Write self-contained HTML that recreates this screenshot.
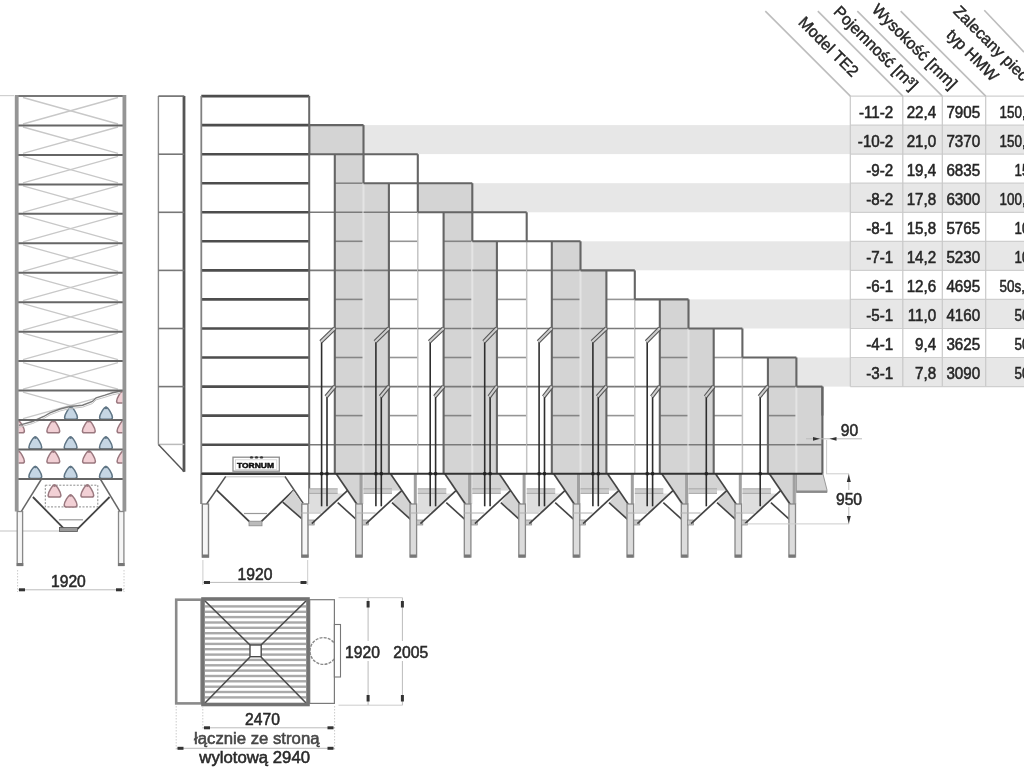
<!DOCTYPE html>
<html><head><meta charset="utf-8"><style>
html,body{margin:0;padding:0;background:#fff;width:1024px;height:768px;overflow:hidden}
svg{display:block;font-family:"Liberation Sans",sans-serif}
</style></head><body>
<svg width="1024" height="768" viewBox="0 0 1024 768">
<rect width="1024" height="768" fill="#fff"/>
<rect x="363.5" y="125.1" width="660.5" height="29.0" fill="#e7e7e7" stroke="none" stroke-width="1" />
<rect x="472.3" y="183.2" width="551.7" height="29.1" fill="#e7e7e7" stroke="none" stroke-width="1" />
<rect x="580.5" y="241.3" width="443.5" height="29.0" fill="#e7e7e7" stroke="none" stroke-width="1" />
<rect x="688.5" y="299.4" width="335.5" height="29.1" fill="#e7e7e7" stroke="none" stroke-width="1" />
<rect x="796.4" y="357.5" width="227.6" height="29.1" fill="#e7e7e7" stroke="none" stroke-width="1" />
<path d="M309.2,125.1H334.8V154.2H309.2ZM334.8,125.1H363.5V154.2H334.8ZM334.8,154.2H363.5V473.8H334.8ZM363.5,183.2H388.9V473.8H363.5ZM417.8,183.2H443.6V212.3H417.8ZM443.6,183.2H472.3V212.3H443.6ZM443.6,212.3H472.3V473.8H443.6ZM472.3,241.3H496.9V473.8H472.3ZM551.8,241.3H580.5V270.4H551.8ZM551.8,270.4H580.5V473.8H551.8ZM580.5,270.4H606.4V299.4H580.5ZM580.5,299.4H606.4V473.8H580.5ZM659.8,299.4H688.5V328.5H659.8ZM659.8,328.5H688.5V473.8H659.8ZM688.5,328.5H713.7V357.5H688.5ZM688.5,357.5H713.7V473.8H688.5ZM767.9,357.5H796.4V386.6H767.9ZM767.9,386.6H796.4V473.8H767.9ZM796.4,386.6H822.4V473.8H796.4Z" fill="#d4d4d4"/>
<line x1="334.8" y1="183.2" x2="363.5" y2="183.2" stroke="#858585" stroke-width="1.6" />
<line x1="309.2" y1="212.3" x2="363.5" y2="212.3" stroke="#7a7a7a" stroke-width="1.6" />
<line x1="334.8" y1="241.3" x2="363.5" y2="241.3" stroke="#858585" stroke-width="1.6" />
<line x1="309.2" y1="270.4" x2="363.5" y2="270.4" stroke="#7a7a7a" stroke-width="1.6" />
<line x1="334.8" y1="299.4" x2="363.5" y2="299.4" stroke="#858585" stroke-width="1.6" />
<line x1="309.2" y1="328.5" x2="363.5" y2="328.5" stroke="#7a7a7a" stroke-width="1.6" />
<line x1="334.8" y1="357.5" x2="363.5" y2="357.5" stroke="#858585" stroke-width="1.6" />
<line x1="309.2" y1="386.6" x2="363.5" y2="386.6" stroke="#7a7a7a" stroke-width="1.6" />
<line x1="334.8" y1="415.6" x2="363.5" y2="415.6" stroke="#858585" stroke-width="1.6" />
<line x1="309.2" y1="444.7" x2="363.5" y2="444.7" stroke="#7a7a7a" stroke-width="1.6" />
<line x1="334.8" y1="473.8" x2="363.5" y2="473.8" stroke="#858585" stroke-width="1.6" />
<line x1="363.5" y1="154.2" x2="363.5" y2="473.8" stroke="#e4e4e4" stroke-width="2" />
<line x1="363.5" y1="212.3" x2="417.8" y2="212.3" stroke="#7a7a7a" stroke-width="1.6" />
<line x1="388.9" y1="241.3" x2="417.8" y2="241.3" stroke="#959595" stroke-width="1.6" />
<line x1="363.5" y1="270.4" x2="417.8" y2="270.4" stroke="#7a7a7a" stroke-width="1.6" />
<line x1="388.9" y1="299.4" x2="417.8" y2="299.4" stroke="#959595" stroke-width="1.6" />
<line x1="363.5" y1="328.5" x2="417.8" y2="328.5" stroke="#7a7a7a" stroke-width="1.6" />
<line x1="388.9" y1="357.5" x2="417.8" y2="357.5" stroke="#959595" stroke-width="1.6" />
<line x1="363.5" y1="386.6" x2="417.8" y2="386.6" stroke="#7a7a7a" stroke-width="1.6" />
<line x1="388.9" y1="415.6" x2="417.8" y2="415.6" stroke="#959595" stroke-width="1.6" />
<line x1="363.5" y1="444.7" x2="417.8" y2="444.7" stroke="#7a7a7a" stroke-width="1.6" />
<line x1="388.9" y1="473.8" x2="417.8" y2="473.8" stroke="#959595" stroke-width="1.6" />
<line x1="417.8" y1="183.2" x2="417.8" y2="473.8" stroke="#c4c4c4" stroke-width="1.5" />
<line x1="443.6" y1="241.3" x2="472.3" y2="241.3" stroke="#858585" stroke-width="1.6" />
<line x1="417.8" y1="270.4" x2="472.3" y2="270.4" stroke="#7a7a7a" stroke-width="1.6" />
<line x1="443.6" y1="299.4" x2="472.3" y2="299.4" stroke="#858585" stroke-width="1.6" />
<line x1="417.8" y1="328.5" x2="472.3" y2="328.5" stroke="#7a7a7a" stroke-width="1.6" />
<line x1="443.6" y1="357.5" x2="472.3" y2="357.5" stroke="#858585" stroke-width="1.6" />
<line x1="417.8" y1="386.6" x2="472.3" y2="386.6" stroke="#7a7a7a" stroke-width="1.6" />
<line x1="443.6" y1="415.6" x2="472.3" y2="415.6" stroke="#858585" stroke-width="1.6" />
<line x1="417.8" y1="444.7" x2="472.3" y2="444.7" stroke="#7a7a7a" stroke-width="1.6" />
<line x1="443.6" y1="473.8" x2="472.3" y2="473.8" stroke="#858585" stroke-width="1.6" />
<line x1="472.3" y1="212.3" x2="472.3" y2="473.8" stroke="#e4e4e4" stroke-width="2" />
<line x1="472.3" y1="270.4" x2="526.7" y2="270.4" stroke="#7a7a7a" stroke-width="1.6" />
<line x1="496.9" y1="299.4" x2="526.7" y2="299.4" stroke="#959595" stroke-width="1.6" />
<line x1="472.3" y1="328.5" x2="526.7" y2="328.5" stroke="#7a7a7a" stroke-width="1.6" />
<line x1="496.9" y1="357.5" x2="526.7" y2="357.5" stroke="#959595" stroke-width="1.6" />
<line x1="472.3" y1="386.6" x2="526.7" y2="386.6" stroke="#7a7a7a" stroke-width="1.6" />
<line x1="496.9" y1="415.6" x2="526.7" y2="415.6" stroke="#959595" stroke-width="1.6" />
<line x1="472.3" y1="444.7" x2="526.7" y2="444.7" stroke="#7a7a7a" stroke-width="1.6" />
<line x1="496.9" y1="473.8" x2="526.7" y2="473.8" stroke="#959595" stroke-width="1.6" />
<line x1="526.7" y1="241.3" x2="526.7" y2="473.8" stroke="#c4c4c4" stroke-width="1.5" />
<line x1="526.7" y1="270.4" x2="580.5" y2="270.4" stroke="#7a7a7a" stroke-width="1.6" />
<line x1="551.8" y1="299.4" x2="580.5" y2="299.4" stroke="#858585" stroke-width="1.6" />
<line x1="526.7" y1="328.5" x2="580.5" y2="328.5" stroke="#7a7a7a" stroke-width="1.6" />
<line x1="551.8" y1="357.5" x2="580.5" y2="357.5" stroke="#858585" stroke-width="1.6" />
<line x1="526.7" y1="386.6" x2="580.5" y2="386.6" stroke="#7a7a7a" stroke-width="1.6" />
<line x1="551.8" y1="415.6" x2="580.5" y2="415.6" stroke="#858585" stroke-width="1.6" />
<line x1="526.7" y1="444.7" x2="580.5" y2="444.7" stroke="#7a7a7a" stroke-width="1.6" />
<line x1="551.8" y1="473.8" x2="580.5" y2="473.8" stroke="#858585" stroke-width="1.6" />
<line x1="580.5" y1="270.4" x2="580.5" y2="473.8" stroke="#e4e4e4" stroke-width="2" />
<line x1="606.4" y1="299.4" x2="634.8" y2="299.4" stroke="#959595" stroke-width="1.6" />
<line x1="580.5" y1="328.5" x2="634.8" y2="328.5" stroke="#7a7a7a" stroke-width="1.6" />
<line x1="606.4" y1="357.5" x2="634.8" y2="357.5" stroke="#959595" stroke-width="1.6" />
<line x1="580.5" y1="386.6" x2="634.8" y2="386.6" stroke="#7a7a7a" stroke-width="1.6" />
<line x1="606.4" y1="415.6" x2="634.8" y2="415.6" stroke="#959595" stroke-width="1.6" />
<line x1="580.5" y1="444.7" x2="634.8" y2="444.7" stroke="#7a7a7a" stroke-width="1.6" />
<line x1="606.4" y1="473.8" x2="634.8" y2="473.8" stroke="#959595" stroke-width="1.6" />
<line x1="634.8" y1="299.4" x2="634.8" y2="473.8" stroke="#c4c4c4" stroke-width="1.5" />
<line x1="634.8" y1="328.5" x2="688.5" y2="328.5" stroke="#7a7a7a" stroke-width="1.6" />
<line x1="659.8" y1="357.5" x2="688.5" y2="357.5" stroke="#858585" stroke-width="1.6" />
<line x1="634.8" y1="386.6" x2="688.5" y2="386.6" stroke="#7a7a7a" stroke-width="1.6" />
<line x1="659.8" y1="415.6" x2="688.5" y2="415.6" stroke="#858585" stroke-width="1.6" />
<line x1="634.8" y1="444.7" x2="688.5" y2="444.7" stroke="#7a7a7a" stroke-width="1.6" />
<line x1="659.8" y1="473.8" x2="688.5" y2="473.8" stroke="#858585" stroke-width="1.6" />
<line x1="688.5" y1="328.5" x2="688.5" y2="473.8" stroke="#e4e4e4" stroke-width="2" />
<line x1="713.7" y1="357.5" x2="742.4" y2="357.5" stroke="#959595" stroke-width="1.6" />
<line x1="688.5" y1="386.6" x2="742.4" y2="386.6" stroke="#7a7a7a" stroke-width="1.6" />
<line x1="713.7" y1="415.6" x2="742.4" y2="415.6" stroke="#959595" stroke-width="1.6" />
<line x1="688.5" y1="444.7" x2="742.4" y2="444.7" stroke="#7a7a7a" stroke-width="1.6" />
<line x1="713.7" y1="473.8" x2="742.4" y2="473.8" stroke="#959595" stroke-width="1.6" />
<line x1="742.4" y1="357.5" x2="742.4" y2="473.8" stroke="#c4c4c4" stroke-width="1.5" />
<line x1="742.4" y1="386.6" x2="796.4" y2="386.6" stroke="#7a7a7a" stroke-width="1.6" />
<line x1="767.9" y1="415.6" x2="796.4" y2="415.6" stroke="#858585" stroke-width="1.6" />
<line x1="742.4" y1="444.7" x2="796.4" y2="444.7" stroke="#7a7a7a" stroke-width="1.6" />
<line x1="767.9" y1="473.8" x2="796.4" y2="473.8" stroke="#858585" stroke-width="1.6" />
<line x1="796.4" y1="386.6" x2="796.4" y2="473.8" stroke="#e4e4e4" stroke-width="2" />
<line x1="796.4" y1="444.7" x2="822.4" y2="444.7" stroke="#7a7a7a" stroke-width="1.6" />
<line x1="822.4" y1="415.6" x2="822.4" y2="473.8" stroke="#c4c4c4" stroke-width="1.5" />
<line x1="309.2" y1="125.1" x2="363.5" y2="125.1" stroke="#656565" stroke-width="2.1" />
<line x1="363.5" y1="125.1" x2="363.5" y2="154.2" stroke="#656565" stroke-width="2.1" />
<line x1="309.2" y1="154.2" x2="363.5" y2="154.2" stroke="#656565" stroke-width="2.1" />
<line x1="309.2" y1="125.1" x2="309.2" y2="154.2" stroke="#656565" stroke-width="2.1" />
<line x1="334.8" y1="154.2" x2="334.8" y2="473.8" stroke="#656565" stroke-width="2.1" />
<line x1="363.5" y1="154.2" x2="417.8" y2="154.2" stroke="#656565" stroke-width="2.1" />
<line x1="417.8" y1="154.2" x2="417.8" y2="183.2" stroke="#656565" stroke-width="2.1" />
<line x1="363.5" y1="183.2" x2="417.8" y2="183.2" stroke="#656565" stroke-width="2.1" />
<line x1="363.5" y1="154.2" x2="363.5" y2="183.2" stroke="#656565" stroke-width="2.1" />
<line x1="388.9" y1="183.2" x2="388.9" y2="473.8" stroke="#656565" stroke-width="2.1" />
<line x1="417.8" y1="183.2" x2="472.3" y2="183.2" stroke="#656565" stroke-width="2.1" />
<line x1="472.3" y1="183.2" x2="472.3" y2="212.3" stroke="#656565" stroke-width="2.1" />
<line x1="417.8" y1="212.3" x2="472.3" y2="212.3" stroke="#656565" stroke-width="2.1" />
<line x1="417.8" y1="183.2" x2="417.8" y2="212.3" stroke="#656565" stroke-width="2.1" />
<line x1="443.6" y1="212.3" x2="443.6" y2="473.8" stroke="#656565" stroke-width="2.1" />
<line x1="472.3" y1="212.3" x2="526.7" y2="212.3" stroke="#656565" stroke-width="2.1" />
<line x1="526.7" y1="212.3" x2="526.7" y2="241.3" stroke="#656565" stroke-width="2.1" />
<line x1="472.3" y1="241.3" x2="526.7" y2="241.3" stroke="#656565" stroke-width="2.1" />
<line x1="472.3" y1="212.3" x2="472.3" y2="241.3" stroke="#656565" stroke-width="2.1" />
<line x1="496.9" y1="241.3" x2="496.9" y2="473.8" stroke="#656565" stroke-width="2.1" />
<line x1="526.7" y1="241.3" x2="580.5" y2="241.3" stroke="#656565" stroke-width="2.1" />
<line x1="580.5" y1="241.3" x2="580.5" y2="270.4" stroke="#656565" stroke-width="2.1" />
<line x1="551.8" y1="241.3" x2="551.8" y2="473.8" stroke="#656565" stroke-width="2.1" />
<line x1="580.5" y1="270.4" x2="634.8" y2="270.4" stroke="#656565" stroke-width="2.1" />
<line x1="634.8" y1="270.4" x2="634.8" y2="299.4" stroke="#656565" stroke-width="2.1" />
<line x1="606.4" y1="270.4" x2="606.4" y2="473.8" stroke="#656565" stroke-width="2.1" />
<line x1="634.8" y1="299.4" x2="688.5" y2="299.4" stroke="#656565" stroke-width="2.1" />
<line x1="688.5" y1="299.4" x2="688.5" y2="328.5" stroke="#656565" stroke-width="2.1" />
<line x1="659.8" y1="299.4" x2="659.8" y2="473.8" stroke="#656565" stroke-width="2.1" />
<line x1="688.5" y1="328.5" x2="742.4" y2="328.5" stroke="#656565" stroke-width="2.1" />
<line x1="742.4" y1="328.5" x2="742.4" y2="357.5" stroke="#656565" stroke-width="2.1" />
<line x1="713.7" y1="328.5" x2="713.7" y2="473.8" stroke="#656565" stroke-width="2.1" />
<line x1="742.4" y1="357.5" x2="796.4" y2="357.5" stroke="#656565" stroke-width="2.1" />
<line x1="796.4" y1="357.5" x2="796.4" y2="386.6" stroke="#656565" stroke-width="2.1" />
<line x1="767.9" y1="357.5" x2="767.9" y2="473.8" stroke="#656565" stroke-width="2.1" />
<line x1="796.4" y1="386.6" x2="822.4" y2="386.6" stroke="#656565" stroke-width="2.1" />
<line x1="822.4" y1="386.6" x2="822.4" y2="415.6" stroke="#656565" stroke-width="2.1" />
<line x1="822.4" y1="386.6" x2="822.4" y2="473.8" stroke="#656565" stroke-width="2.1" />
<rect x="201.3" y="96.1" width="107.9" height="377.6" fill="#fff" stroke="none" stroke-width="1" />
<line x1="201.3" y1="96.1" x2="309.2" y2="96.1" stroke="#4d4d4d" stroke-width="2.6" />
<line x1="201.3" y1="125.1" x2="309.2" y2="125.1" stroke="#4d4d4d" stroke-width="2.6" />
<line x1="201.3" y1="154.2" x2="309.2" y2="154.2" stroke="#4d4d4d" stroke-width="2.6" />
<line x1="201.3" y1="183.2" x2="309.2" y2="183.2" stroke="#4d4d4d" stroke-width="2.6" />
<line x1="201.3" y1="212.3" x2="309.2" y2="212.3" stroke="#4d4d4d" stroke-width="2.6" />
<line x1="201.3" y1="241.3" x2="309.2" y2="241.3" stroke="#4d4d4d" stroke-width="2.6" />
<line x1="201.3" y1="270.4" x2="309.2" y2="270.4" stroke="#4d4d4d" stroke-width="2.6" />
<line x1="201.3" y1="299.4" x2="309.2" y2="299.4" stroke="#4d4d4d" stroke-width="2.6" />
<line x1="201.3" y1="328.5" x2="309.2" y2="328.5" stroke="#4d4d4d" stroke-width="2.6" />
<line x1="201.3" y1="357.5" x2="309.2" y2="357.5" stroke="#4d4d4d" stroke-width="2.6" />
<line x1="201.3" y1="386.6" x2="309.2" y2="386.6" stroke="#4d4d4d" stroke-width="2.6" />
<line x1="201.3" y1="415.6" x2="309.2" y2="415.6" stroke="#4d4d4d" stroke-width="2.6" />
<line x1="201.3" y1="444.7" x2="309.2" y2="444.7" stroke="#4d4d4d" stroke-width="2.6" />
<line x1="201.3" y1="473.8" x2="309.2" y2="473.8" stroke="#4d4d4d" stroke-width="2.6" />
<line x1="201.3" y1="96.1" x2="201.3" y2="504.0" stroke="#808080" stroke-width="1.8" />
<line x1="309.2" y1="96.1" x2="309.2" y2="504.0" stroke="#6a6a6a" stroke-width="2" />
<rect x="233.0" y="457.2" width="46.3" height="14.0" fill="#fff" stroke="#8c8c8c" stroke-width="1.3" />
<rect x="235.5" y="459.8" width="41.3" height="9.6" fill="none" stroke="#d0d0d0" stroke-width="0.8" />
<text x="237" y="468" font-size="7.6" font-weight="bold" fill="#111" stroke="#111" stroke-width="0.5" textLength="37" lengthAdjust="spacingAndGlyphs">TORNUM</text>
<ellipse cx="251.5" cy="457.4" rx="1.6" ry="1.2" fill="#333"/>
<ellipse cx="256.5" cy="457.4" rx="1.6" ry="1.2" fill="#333"/>
<ellipse cx="261.5" cy="457.4" rx="1.6" ry="1.2" fill="#333"/>
<line x1="158.4" y1="96.1" x2="158.4" y2="444.4" stroke="#8a8a8a" stroke-width="1.4" />
<line x1="184.0" y1="96.1" x2="184.0" y2="471.7" stroke="#555" stroke-width="2.8" />
<line x1="158.4" y1="96.1" x2="184.3" y2="96.1" stroke="#6a6a6a" stroke-width="1.6" />
<line x1="158.4" y1="154.2" x2="184.3" y2="154.2" stroke="#777" stroke-width="1.6" />
<line x1="158.4" y1="212.3" x2="184.3" y2="212.3" stroke="#777" stroke-width="1.6" />
<line x1="158.4" y1="270.4" x2="184.3" y2="270.4" stroke="#777" stroke-width="1.6" />
<line x1="158.4" y1="328.5" x2="184.3" y2="328.5" stroke="#777" stroke-width="1.6" />
<line x1="158.4" y1="386.6" x2="184.3" y2="386.6" stroke="#777" stroke-width="1.6" />
<line x1="158.4" y1="444.4" x2="184.3" y2="444.4" stroke="#bbb" stroke-width="1.5" />
<line x1="158.4" y1="444.4" x2="184.3" y2="471.7" stroke="#555" stroke-width="1.4" />
<line x1="23.0" y1="97.5" x2="118.0" y2="124.0" stroke="#c8c8c8" stroke-width="1.3" />
<line x1="118.0" y1="97.5" x2="23.0" y2="124.0" stroke="#c8c8c8" stroke-width="1.3" />
<line x1="23.0" y1="127.0" x2="118.0" y2="153.4" stroke="#c8c8c8" stroke-width="1.3" />
<line x1="118.0" y1="127.0" x2="23.0" y2="153.4" stroke="#c8c8c8" stroke-width="1.3" />
<line x1="23.0" y1="156.4" x2="118.0" y2="182.9" stroke="#c8c8c8" stroke-width="1.3" />
<line x1="118.0" y1="156.4" x2="23.0" y2="182.9" stroke="#c8c8c8" stroke-width="1.3" />
<line x1="23.0" y1="185.9" x2="118.0" y2="212.3" stroke="#c8c8c8" stroke-width="1.3" />
<line x1="118.0" y1="185.9" x2="23.0" y2="212.3" stroke="#c8c8c8" stroke-width="1.3" />
<line x1="23.0" y1="215.3" x2="118.0" y2="241.8" stroke="#c8c8c8" stroke-width="1.3" />
<line x1="118.0" y1="215.3" x2="23.0" y2="241.8" stroke="#c8c8c8" stroke-width="1.3" />
<line x1="23.0" y1="244.8" x2="118.0" y2="271.3" stroke="#c8c8c8" stroke-width="1.3" />
<line x1="118.0" y1="244.8" x2="23.0" y2="271.3" stroke="#c8c8c8" stroke-width="1.3" />
<line x1="23.0" y1="274.3" x2="118.0" y2="300.7" stroke="#c8c8c8" stroke-width="1.3" />
<line x1="118.0" y1="274.3" x2="23.0" y2="300.7" stroke="#c8c8c8" stroke-width="1.3" />
<line x1="23.0" y1="303.7" x2="118.0" y2="330.2" stroke="#c8c8c8" stroke-width="1.3" />
<line x1="118.0" y1="303.7" x2="23.0" y2="330.2" stroke="#c8c8c8" stroke-width="1.3" />
<line x1="23.0" y1="333.2" x2="118.0" y2="359.6" stroke="#c8c8c8" stroke-width="1.3" />
<line x1="118.0" y1="333.2" x2="23.0" y2="359.6" stroke="#c8c8c8" stroke-width="1.3" />
<line x1="23.0" y1="362.6" x2="118.0" y2="389.1" stroke="#c8c8c8" stroke-width="1.3" />
<line x1="118.0" y1="362.6" x2="23.0" y2="389.1" stroke="#c8c8c8" stroke-width="1.3" />
<clipPath id="ab"><polygon points="10,385 130,385 130,391 121,391 121.0,391.0 112.5,392.8 105.0,395.2 96.2,397.8 92.5,401.5 82.5,405.2 70.0,406.5 60.0,409.0 50.0,412.8 43.8,416.5 32.5,421.5 18.8,425.3 10,425.3 10,430"/></clipPath>
<g clip-path="url(#ab)">
<line x1="23.0" y1="392.1" x2="118.0" y2="418.6" stroke="#c8c8c8" stroke-width="1.3" />
<line x1="118.0" y1="392.1" x2="23.0" y2="418.6" stroke="#c8c8c8" stroke-width="1.3" />
</g>
<clipPath id="lt"><rect x="18.5" y="90" width="104" height="430"/></clipPath>
<g clip-path="url(#lt)">
<path d="M71.0,407.3 C73.2,407.3 77.4,414.8 77.4,417.5 Q77.4,419.3 75.4,419.3 L66.6,419.3 Q64.6,419.3 64.6,417.5 C64.6,414.8 68.8,407.3 71.0,407.3 Z" fill="#c6d6e4" stroke="#5f7585" stroke-width="1.5"/>
<circle cx="71.0" cy="407.9" r="1.3" fill="#5f7585"/>
<path d="M106.0,407.3 C108.2,407.3 112.4,414.8 112.4,417.5 Q112.4,419.3 110.4,419.3 L101.6,419.3 Q99.6,419.3 99.6,417.5 C99.6,414.8 103.8,407.3 106.0,407.3 Z" fill="#c6d6e4" stroke="#5f7585" stroke-width="1.5"/>
<circle cx="106.0" cy="407.9" r="1.3" fill="#5f7585"/>
<path d="M35.3,437.0 C37.5,437.0 41.7,444.5 41.7,447.2 Q41.7,449.0 39.7,449.0 L30.9,449.0 Q28.9,449.0 28.9,447.2 C28.9,444.5 33.1,437.0 35.3,437.0 Z" fill="#c6d6e4" stroke="#5f7585" stroke-width="1.5"/>
<circle cx="35.3" cy="437.6" r="1.3" fill="#5f7585"/>
<path d="M70.6,437.0 C72.8,437.0 77.0,444.5 77.0,447.2 Q77.0,449.0 75.0,449.0 L66.2,449.0 Q64.2,449.0 64.2,447.2 C64.2,444.5 68.4,437.0 70.6,437.0 Z" fill="#c6d6e4" stroke="#5f7585" stroke-width="1.5"/>
<circle cx="70.6" cy="437.6" r="1.3" fill="#5f7585"/>
<path d="M105.9,437.0 C108.1,437.0 112.3,444.5 112.3,447.2 Q112.3,449.0 110.3,449.0 L101.5,449.0 Q99.5,449.0 99.5,447.2 C99.5,444.5 103.7,437.0 105.9,437.0 Z" fill="#c6d6e4" stroke="#5f7585" stroke-width="1.5"/>
<circle cx="105.9" cy="437.6" r="1.3" fill="#5f7585"/>
<path d="M35.3,466.4 C37.5,466.4 41.7,473.9 41.7,476.6 Q41.7,478.4 39.7,478.4 L30.9,478.4 Q28.9,478.4 28.9,476.6 C28.9,473.9 33.1,466.4 35.3,466.4 Z" fill="#c6d6e4" stroke="#5f7585" stroke-width="1.5"/>
<circle cx="35.3" cy="467.0" r="1.3" fill="#5f7585"/>
<path d="M70.6,466.4 C72.8,466.4 77.0,473.9 77.0,476.6 Q77.0,478.4 75.0,478.4 L66.2,478.4 Q64.2,478.4 64.2,476.6 C64.2,473.9 68.4,466.4 70.6,466.4 Z" fill="#c6d6e4" stroke="#5f7585" stroke-width="1.5"/>
<circle cx="70.6" cy="467.0" r="1.3" fill="#5f7585"/>
<path d="M105.9,466.4 C108.1,466.4 112.3,473.9 112.3,476.6 Q112.3,478.4 110.3,478.4 L101.5,478.4 Q99.5,478.4 99.5,476.6 C99.5,473.9 103.7,466.4 105.9,466.4 Z" fill="#c6d6e4" stroke="#5f7585" stroke-width="1.5"/>
<circle cx="105.9" cy="467.0" r="1.3" fill="#5f7585"/>
<path d="M123.0,391.0 C125.2,391.0 129.4,398.5 129.4,401.2 Q129.4,403.0 127.4,403.0 L118.6,403.0 Q116.6,403.0 116.6,401.2 C116.6,398.5 120.8,391.0 123.0,391.0 Z" fill="#f2d0d5" stroke="#9a787f" stroke-width="1.5"/>
<circle cx="123.0" cy="391.6" r="1.3" fill="#9a787f"/>
<path d="M18.0,420.7 C20.2,420.7 24.4,428.2 24.4,430.9 Q24.4,432.7 22.4,432.7 L13.6,432.7 Q11.6,432.7 11.6,430.9 C11.6,428.2 15.8,420.7 18.0,420.7 Z" fill="#f2d0d5" stroke="#9a787f" stroke-width="1.5"/>
<circle cx="18.0" cy="421.3" r="1.3" fill="#9a787f"/>
<path d="M53.3,420.7 C55.5,420.7 59.7,428.2 59.7,430.9 Q59.7,432.7 57.7,432.7 L48.9,432.7 Q46.9,432.7 46.9,430.9 C46.9,428.2 51.1,420.7 53.3,420.7 Z" fill="#f2d0d5" stroke="#9a787f" stroke-width="1.5"/>
<circle cx="53.3" cy="421.3" r="1.3" fill="#9a787f"/>
<path d="M88.8,420.7 C91.0,420.7 95.2,428.2 95.2,430.9 Q95.2,432.7 93.2,432.7 L84.4,432.7 Q82.4,432.7 82.4,430.9 C82.4,428.2 86.6,420.7 88.8,420.7 Z" fill="#f2d0d5" stroke="#9a787f" stroke-width="1.5"/>
<circle cx="88.8" cy="421.3" r="1.3" fill="#9a787f"/>
<path d="M123.5,420.7 C125.7,420.7 129.9,428.2 129.9,430.9 Q129.9,432.7 127.9,432.7 L119.1,432.7 Q117.1,432.7 117.1,430.9 C117.1,428.2 121.3,420.7 123.5,420.7 Z" fill="#f2d0d5" stroke="#9a787f" stroke-width="1.5"/>
<circle cx="123.5" cy="421.3" r="1.3" fill="#9a787f"/>
<path d="M18.0,451.0 C20.2,451.0 24.4,458.5 24.4,461.2 Q24.4,463.0 22.4,463.0 L13.6,463.0 Q11.6,463.0 11.6,461.2 C11.6,458.5 15.8,451.0 18.0,451.0 Z" fill="#f2d0d5" stroke="#9a787f" stroke-width="1.5"/>
<circle cx="18.0" cy="451.6" r="1.3" fill="#9a787f"/>
<path d="M53.3,451.0 C55.5,451.0 59.7,458.5 59.7,461.2 Q59.7,463.0 57.7,463.0 L48.9,463.0 Q46.9,463.0 46.9,461.2 C46.9,458.5 51.1,451.0 53.3,451.0 Z" fill="#f2d0d5" stroke="#9a787f" stroke-width="1.5"/>
<circle cx="53.3" cy="451.6" r="1.3" fill="#9a787f"/>
<path d="M89.0,451.0 C91.2,451.0 95.4,458.5 95.4,461.2 Q95.4,463.0 93.4,463.0 L84.6,463.0 Q82.6,463.0 82.6,461.2 C82.6,458.5 86.8,451.0 89.0,451.0 Z" fill="#f2d0d5" stroke="#9a787f" stroke-width="1.5"/>
<circle cx="89.0" cy="451.6" r="1.3" fill="#9a787f"/>
<path d="M123.5,451.0 C125.7,451.0 129.9,458.5 129.9,461.2 Q129.9,463.0 127.9,463.0 L119.1,463.0 Q117.1,463.0 117.1,461.2 C117.1,458.5 121.3,451.0 123.5,451.0 Z" fill="#f2d0d5" stroke="#9a787f" stroke-width="1.5"/>
<circle cx="123.5" cy="451.6" r="1.3" fill="#9a787f"/>
</g>
<polyline points="18.8,425.3 32.5,421.5 43.8,416.5 50.0,412.8 60.0,409.0 70.0,406.5 82.5,405.2 92.5,401.5 96.2,397.8 105.0,395.2 112.5,392.8 121.0,391.0" fill="none" stroke="#7a7a7a" stroke-width="1.4" />
<polyline points="18.8,427.3 32.5,423.5 43.8,418.5 50.0,414.8 60.0,411.0 70.0,408.5 82.5,407.2 92.5,403.5 96.2,399.8 105.0,397.2 112.5,394.8 121.0,393.0" fill="none" stroke="#c4c4c4" stroke-width="1" />
<line x1="16.0" y1="96.0" x2="125.0" y2="96.0" stroke="#777" stroke-width="2" />
<line x1="16.0" y1="125.5" x2="125.0" y2="125.5" stroke="#666" stroke-width="2" />
<line x1="16.0" y1="154.9" x2="125.0" y2="154.9" stroke="#666" stroke-width="2" />
<line x1="16.0" y1="184.4" x2="125.0" y2="184.4" stroke="#666" stroke-width="2" />
<line x1="16.0" y1="213.8" x2="125.0" y2="213.8" stroke="#666" stroke-width="2" />
<line x1="16.0" y1="243.3" x2="125.0" y2="243.3" stroke="#666" stroke-width="2" />
<line x1="16.0" y1="272.8" x2="125.0" y2="272.8" stroke="#666" stroke-width="2" />
<line x1="16.0" y1="302.2" x2="125.0" y2="302.2" stroke="#666" stroke-width="2" />
<line x1="16.0" y1="331.7" x2="125.0" y2="331.7" stroke="#666" stroke-width="2" />
<line x1="16.0" y1="361.1" x2="125.0" y2="361.1" stroke="#666" stroke-width="2" />
<line x1="16.0" y1="390.6" x2="125.0" y2="390.6" stroke="#666" stroke-width="2" />
<line x1="16.0" y1="420.1" x2="125.0" y2="420.1" stroke="#666" stroke-width="2" />
<line x1="16.0" y1="449.5" x2="125.0" y2="449.5" stroke="#666" stroke-width="2" />
<line x1="16.0" y1="479.0" x2="125.0" y2="479.0" stroke="#666" stroke-width="2" />
<rect x="14.8" y="95.0" width="3.8" height="416.5" fill="#959595" stroke="none" stroke-width="1" />
<rect x="122.5" y="95.0" width="3.8" height="416.5" fill="#959595" stroke="none" stroke-width="1" />
<line x1="0.0" y1="95.6" x2="14.0" y2="95.6" stroke="#d0d0d0" stroke-width="1.2" />
<rect x="45.3" y="485.2" width="52.5" height="21.7" fill="none" stroke="#8a8a8a" stroke-width="1" stroke-dasharray="2,1.5"/>
<path d="M54.5,485.0 C56.7,485.0 60.9,492.5 60.9,495.2 Q60.9,497.0 58.9,497.0 L50.1,497.0 Q48.1,497.0 48.1,495.2 C48.1,492.5 52.3,485.0 54.5,485.0 Z" fill="#f2d0d5" stroke="#9a787f" stroke-width="1.5"/>
<circle cx="54.5" cy="485.6" r="1.3" fill="#9a787f"/>
<path d="M87.3,485.0 C89.5,485.0 93.7,492.5 93.7,495.2 Q93.7,497.0 91.7,497.0 L82.9,497.0 Q80.9,497.0 80.9,495.2 C80.9,492.5 85.1,485.0 87.3,485.0 Z" fill="#f2d0d5" stroke="#9a787f" stroke-width="1.5"/>
<circle cx="87.3" cy="485.6" r="1.3" fill="#9a787f"/>
<path d="M70.6,494.9 C72.8,494.9 77.0,502.4 77.0,505.1 Q77.0,506.9 75.0,506.9 L66.2,506.9 Q64.2,506.9 64.2,505.1 C64.2,502.4 68.4,494.9 70.6,494.9 Z" fill="#f2d0d5" stroke="#9a787f" stroke-width="1.5"/>
<circle cx="70.6" cy="495.5" r="1.3" fill="#9a787f"/>
<line x1="41.5" y1="479.0" x2="21.1" y2="511.8" stroke="#666" stroke-width="1.5" />
<line x1="100.3" y1="479.0" x2="120.1" y2="511.8" stroke="#666" stroke-width="1.5" />
<line x1="32.9" y1="497.0" x2="64.4" y2="529.1" stroke="#444" stroke-width="1.8" />
<line x1="109.6" y1="497.0" x2="77.4" y2="529.1" stroke="#444" stroke-width="1.8" />
<line x1="58.9" y1="519.8" x2="83.0" y2="519.8" stroke="#999" stroke-width="1.2" />
<rect x="59.5" y="527.5" width="18.0" height="4.0" fill="#999" stroke="#555" stroke-width="0.8" />
<line x1="0.0" y1="531.0" x2="59.0" y2="531.0" stroke="#c4c4c4" stroke-width="1.2" />
<rect x="17.2" y="511.5" width="5.4" height="54.0" fill="#f6f6f6" stroke="#888" stroke-width="1.3" />
<rect x="16.7" y="563.0" width="6.6" height="3.0" fill="#777" stroke="none" stroke-width="1" />
<rect x="118.5" y="511.5" width="5.4" height="54.0" fill="#f6f6f6" stroke="#888" stroke-width="1.3" />
<rect x="118.0" y="563.0" width="6.6" height="3.0" fill="#777" stroke="none" stroke-width="1" />
<line x1="17.6" y1="570.0" x2="17.6" y2="592.0" stroke="#ccc" stroke-width="1" stroke-dasharray="1.5,1.5"/>
<line x1="124.0" y1="570.0" x2="124.0" y2="592.0" stroke="#ccc" stroke-width="1" stroke-dasharray="1.5,1.5"/>
<line x1="18.0" y1="589.8" x2="124.0" y2="589.8" stroke="#bbb" stroke-width="1" />
<rect x="19.0" y="588.3" width="6.0" height="3.0" fill="#333" stroke="none" stroke-width="1" />
<rect x="116.0" y="588.3" width="6.0" height="3.0" fill="#333" stroke="none" stroke-width="1" />
<text transform="translate(68.4,587.3) scale(0.95,1)" font-size="16.5" fill="#2a2a2a" text-anchor="middle" stroke="#2a2a2a" stroke-width="0.55" >1920</text>
<line x1="201.3" y1="473.8" x2="201.3" y2="504.0" stroke="#8a8a8a" stroke-width="1.8" />
<line x1="206.4" y1="504.4" x2="225.8" y2="476.4" stroke="#555" stroke-width="1.6" />
<line x1="284.9" y1="476.4" x2="303.1" y2="503.3" stroke="#555" stroke-width="1.6" />
<line x1="216.7" y1="490.2" x2="249.4" y2="521.6" stroke="#444" stroke-width="1.8" />
<line x1="293.5" y1="490.4" x2="261.2" y2="521.6" stroke="#444" stroke-width="1.8" />
<line x1="244.0" y1="513.5" x2="267.1" y2="513.5" stroke="#999" stroke-width="1.2" />
<rect x="249.0" y="521.2" width="13.0" height="4.6" fill="#bbb" stroke="#888" stroke-width="0.8" />
<line x1="225.8" y1="476.8" x2="284.9" y2="476.8" stroke="#c4c4c4" stroke-width="1" />
<polygon points="293.2,490.6 302.5,504.3 302.0,519.3 283.5,502.7" fill="#d4d4d4" stroke="none" stroke-width="1" />
<line x1="282.7" y1="502.2" x2="302.0" y2="518.9" stroke="#444" stroke-width="1.6" />
<rect x="202.3" y="504.0" width="6.2" height="53.0" fill="#f6f6f6" stroke="#808080" stroke-width="1.4" />
<rect x="202.0" y="554.5" width="7.0" height="3.0" fill="#777" stroke="none" stroke-width="1" />
<rect x="301.8" y="504.0" width="6.2" height="53.0" fill="#f6f6f6" stroke="#808080" stroke-width="1.4" />
<rect x="301.5" y="554.5" width="7.0" height="3.0" fill="#777" stroke="none" stroke-width="1" />
<polygon points="335.2,473.8 363.5,473.8 363.5,504.0 355.2,504.0" fill="#d4d4d4" stroke="none" stroke-width="1" />
<polygon points="309.2,493.4 343.8,493.4 325.7,512.2 309.2,512.2" fill="#dedede" stroke="none" stroke-width="1" />
<rect x="309.2" y="488.8" width="28.5" height="4.6" fill="#cdcdcd" stroke="none" stroke-width="1" />
<line x1="309.2" y1="488.8" x2="337.7" y2="488.8" stroke="#a8a8a8" stroke-width="1" />
<line x1="309.2" y1="493.4" x2="337.7" y2="493.4" stroke="#a8a8a8" stroke-width="1" />
<line x1="301.2" y1="513.0" x2="321.2" y2="513.0" stroke="#b0b0b0" stroke-width="1" />
<rect x="308.2" y="520.0" width="6.0" height="5.0" fill="#c8c8c8" stroke="#888" stroke-width="0.7" />
<line x1="336.2" y1="473.8" x2="357.0" y2="504.3" stroke="#444" stroke-width="1.6" />
<line x1="311.8" y1="523.7" x2="347.4" y2="490.6" stroke="#444" stroke-width="1.7" />
<line x1="337.7" y1="502.7" x2="356.2" y2="519.3" stroke="#444" stroke-width="1.6" />
<rect x="359.5" y="473.8" width="3.0" height="30.2" fill="#a0a0a0" stroke="none" stroke-width="1" />
<rect x="355.7" y="504.0" width="6.6" height="53.0" fill="#dcdcdc" stroke="#888" stroke-width="1.3" />
<rect x="355.6" y="554.5" width="6.4" height="3.0" fill="#777" stroke="none" stroke-width="1" />
<polygon points="363.5,473.8 391.2,473.8 401.5,490.6 363.5,490.6" fill="#d4d4d4" stroke="none" stroke-width="1" />
<polygon points="401.7,490.6 411.3,504.3 410.5,519.3 392.0,502.7" fill="#d4d4d4" stroke="none" stroke-width="1" />
<rect x="363.5" y="488.8" width="28.5" height="4.6" fill="#cdcdcd" stroke="none" stroke-width="1" />
<line x1="363.5" y1="488.8" x2="392.0" y2="488.8" stroke="#a8a8a8" stroke-width="1" />
<line x1="363.5" y1="493.4" x2="392.0" y2="493.4" stroke="#a8a8a8" stroke-width="1" />
<line x1="355.5" y1="513.0" x2="375.5" y2="513.0" stroke="#b0b0b0" stroke-width="1" />
<rect x="362.5" y="520.0" width="6.0" height="5.0" fill="#c8c8c8" stroke="#888" stroke-width="0.7" />
<line x1="390.5" y1="473.8" x2="411.3" y2="504.3" stroke="#444" stroke-width="1.6" />
<line x1="366.1" y1="523.7" x2="401.7" y2="490.6" stroke="#444" stroke-width="1.7" />
<line x1="392.0" y1="502.7" x2="410.5" y2="519.3" stroke="#444" stroke-width="1.6" />
<rect x="413.8" y="473.8" width="3.0" height="30.2" fill="#a0a0a0" stroke="none" stroke-width="1" />
<rect x="410.0" y="504.0" width="6.6" height="53.0" fill="#dcdcdc" stroke="#888" stroke-width="1.3" />
<rect x="409.9" y="554.5" width="6.4" height="3.0" fill="#777" stroke="none" stroke-width="1" />
<polygon points="443.8,473.8 472.3,473.8 472.3,504.0 463.8,504.0" fill="#d4d4d4" stroke="none" stroke-width="1" />
<polygon points="417.8,493.4 452.4,493.4 434.3,512.2 417.8,512.2" fill="#dedede" stroke="none" stroke-width="1" />
<rect x="417.8" y="488.8" width="28.5" height="4.6" fill="#cdcdcd" stroke="none" stroke-width="1" />
<line x1="417.8" y1="488.8" x2="446.3" y2="488.8" stroke="#a8a8a8" stroke-width="1" />
<line x1="417.8" y1="493.4" x2="446.3" y2="493.4" stroke="#a8a8a8" stroke-width="1" />
<line x1="409.8" y1="513.0" x2="429.8" y2="513.0" stroke="#b0b0b0" stroke-width="1" />
<rect x="416.8" y="520.0" width="6.0" height="5.0" fill="#c8c8c8" stroke="#888" stroke-width="0.7" />
<line x1="444.8" y1="473.8" x2="465.6" y2="504.3" stroke="#444" stroke-width="1.6" />
<line x1="420.4" y1="523.7" x2="456.0" y2="490.6" stroke="#444" stroke-width="1.7" />
<line x1="446.3" y1="502.7" x2="464.8" y2="519.3" stroke="#444" stroke-width="1.6" />
<rect x="468.1" y="473.8" width="3.0" height="30.2" fill="#a0a0a0" stroke="none" stroke-width="1" />
<rect x="464.3" y="504.0" width="6.6" height="53.0" fill="#dcdcdc" stroke="#888" stroke-width="1.3" />
<rect x="464.2" y="554.5" width="6.4" height="3.0" fill="#777" stroke="none" stroke-width="1" />
<polygon points="472.3,473.8 500.0,473.8 510.3,490.6 472.3,490.6" fill="#d4d4d4" stroke="none" stroke-width="1" />
<polygon points="510.5,490.6 520.1,504.3 519.3,519.3 500.8,502.7" fill="#d4d4d4" stroke="none" stroke-width="1" />
<rect x="472.3" y="488.8" width="28.5" height="4.6" fill="#cdcdcd" stroke="none" stroke-width="1" />
<line x1="472.3" y1="488.8" x2="500.8" y2="488.8" stroke="#a8a8a8" stroke-width="1" />
<line x1="472.3" y1="493.4" x2="500.8" y2="493.4" stroke="#a8a8a8" stroke-width="1" />
<line x1="464.3" y1="513.0" x2="484.3" y2="513.0" stroke="#b0b0b0" stroke-width="1" />
<rect x="471.3" y="520.0" width="6.0" height="5.0" fill="#c8c8c8" stroke="#888" stroke-width="0.7" />
<line x1="499.3" y1="473.8" x2="520.1" y2="504.3" stroke="#444" stroke-width="1.6" />
<line x1="474.9" y1="523.7" x2="510.5" y2="490.6" stroke="#444" stroke-width="1.7" />
<line x1="500.8" y1="502.7" x2="519.3" y2="519.3" stroke="#444" stroke-width="1.6" />
<rect x="522.6" y="473.8" width="3.0" height="30.2" fill="#a0a0a0" stroke="none" stroke-width="1" />
<rect x="518.8" y="504.0" width="6.6" height="53.0" fill="#dcdcdc" stroke="#888" stroke-width="1.3" />
<rect x="518.7" y="554.5" width="6.4" height="3.0" fill="#777" stroke="none" stroke-width="1" />
<polygon points="552.7,473.8 580.5,473.8 580.5,504.0 572.7,504.0" fill="#d4d4d4" stroke="none" stroke-width="1" />
<polygon points="526.7,493.4 561.3,493.4 543.2,512.2 526.7,512.2" fill="#dedede" stroke="none" stroke-width="1" />
<rect x="526.7" y="488.8" width="28.5" height="4.6" fill="#cdcdcd" stroke="none" stroke-width="1" />
<line x1="526.7" y1="488.8" x2="555.2" y2="488.8" stroke="#a8a8a8" stroke-width="1" />
<line x1="526.7" y1="493.4" x2="555.2" y2="493.4" stroke="#a8a8a8" stroke-width="1" />
<line x1="518.7" y1="513.0" x2="538.7" y2="513.0" stroke="#b0b0b0" stroke-width="1" />
<rect x="525.7" y="520.0" width="6.0" height="5.0" fill="#c8c8c8" stroke="#888" stroke-width="0.7" />
<line x1="553.7" y1="473.8" x2="574.5" y2="504.3" stroke="#444" stroke-width="1.6" />
<line x1="529.3" y1="523.7" x2="564.9" y2="490.6" stroke="#444" stroke-width="1.7" />
<line x1="555.2" y1="502.7" x2="573.7" y2="519.3" stroke="#444" stroke-width="1.6" />
<rect x="577.0" y="473.8" width="3.0" height="30.2" fill="#a0a0a0" stroke="none" stroke-width="1" />
<rect x="573.2" y="504.0" width="6.6" height="53.0" fill="#dcdcdc" stroke="#888" stroke-width="1.3" />
<rect x="573.1" y="554.5" width="6.4" height="3.0" fill="#777" stroke="none" stroke-width="1" />
<polygon points="580.5,473.8 608.2,473.8 618.5,490.6 580.5,490.6" fill="#d4d4d4" stroke="none" stroke-width="1" />
<polygon points="618.7,490.6 628.3,504.3 627.5,519.3 609.0,502.7" fill="#d4d4d4" stroke="none" stroke-width="1" />
<rect x="580.5" y="488.8" width="28.5" height="4.6" fill="#cdcdcd" stroke="none" stroke-width="1" />
<line x1="580.5" y1="488.8" x2="609.0" y2="488.8" stroke="#a8a8a8" stroke-width="1" />
<line x1="580.5" y1="493.4" x2="609.0" y2="493.4" stroke="#a8a8a8" stroke-width="1" />
<line x1="572.5" y1="513.0" x2="592.5" y2="513.0" stroke="#b0b0b0" stroke-width="1" />
<rect x="579.5" y="520.0" width="6.0" height="5.0" fill="#c8c8c8" stroke="#888" stroke-width="0.7" />
<line x1="607.5" y1="473.8" x2="628.3" y2="504.3" stroke="#444" stroke-width="1.6" />
<line x1="583.1" y1="523.7" x2="618.7" y2="490.6" stroke="#444" stroke-width="1.7" />
<line x1="609.0" y1="502.7" x2="627.5" y2="519.3" stroke="#444" stroke-width="1.6" />
<rect x="630.8" y="473.8" width="3.0" height="30.2" fill="#a0a0a0" stroke="none" stroke-width="1" />
<rect x="627.0" y="504.0" width="6.6" height="53.0" fill="#dcdcdc" stroke="#888" stroke-width="1.3" />
<rect x="626.9" y="554.5" width="6.4" height="3.0" fill="#777" stroke="none" stroke-width="1" />
<polygon points="660.8,473.8 688.5,473.8 688.5,504.0 680.8,504.0" fill="#d4d4d4" stroke="none" stroke-width="1" />
<polygon points="634.8,493.4 669.4,493.4 651.3,512.2 634.8,512.2" fill="#dedede" stroke="none" stroke-width="1" />
<rect x="634.8" y="488.8" width="28.5" height="4.6" fill="#cdcdcd" stroke="none" stroke-width="1" />
<line x1="634.8" y1="488.8" x2="663.3" y2="488.8" stroke="#a8a8a8" stroke-width="1" />
<line x1="634.8" y1="493.4" x2="663.3" y2="493.4" stroke="#a8a8a8" stroke-width="1" />
<line x1="626.8" y1="513.0" x2="646.8" y2="513.0" stroke="#b0b0b0" stroke-width="1" />
<rect x="633.8" y="520.0" width="6.0" height="5.0" fill="#c8c8c8" stroke="#888" stroke-width="0.7" />
<line x1="661.8" y1="473.8" x2="682.6" y2="504.3" stroke="#444" stroke-width="1.6" />
<line x1="637.4" y1="523.7" x2="673.0" y2="490.6" stroke="#444" stroke-width="1.7" />
<line x1="663.3" y1="502.7" x2="681.8" y2="519.3" stroke="#444" stroke-width="1.6" />
<rect x="685.1" y="473.8" width="3.0" height="30.2" fill="#a0a0a0" stroke="none" stroke-width="1" />
<rect x="681.3" y="504.0" width="6.6" height="53.0" fill="#dcdcdc" stroke="#888" stroke-width="1.3" />
<rect x="681.2" y="554.5" width="6.4" height="3.0" fill="#777" stroke="none" stroke-width="1" />
<polygon points="688.5,473.8 716.2,473.8 726.5,490.6 688.5,490.6" fill="#d4d4d4" stroke="none" stroke-width="1" />
<polygon points="726.7,490.6 736.3,504.3 735.5,519.3 717.0,502.7" fill="#d4d4d4" stroke="none" stroke-width="1" />
<rect x="688.5" y="488.8" width="28.5" height="4.6" fill="#cdcdcd" stroke="none" stroke-width="1" />
<line x1="688.5" y1="488.8" x2="717.0" y2="488.8" stroke="#a8a8a8" stroke-width="1" />
<line x1="688.5" y1="493.4" x2="717.0" y2="493.4" stroke="#a8a8a8" stroke-width="1" />
<line x1="680.5" y1="513.0" x2="700.5" y2="513.0" stroke="#b0b0b0" stroke-width="1" />
<rect x="687.5" y="520.0" width="6.0" height="5.0" fill="#c8c8c8" stroke="#888" stroke-width="0.7" />
<line x1="715.5" y1="473.8" x2="736.3" y2="504.3" stroke="#444" stroke-width="1.6" />
<line x1="691.1" y1="523.7" x2="726.7" y2="490.6" stroke="#444" stroke-width="1.7" />
<line x1="717.0" y1="502.7" x2="735.5" y2="519.3" stroke="#444" stroke-width="1.6" />
<rect x="738.8" y="473.8" width="3.0" height="30.2" fill="#a0a0a0" stroke="none" stroke-width="1" />
<rect x="735.0" y="504.0" width="6.6" height="53.0" fill="#dcdcdc" stroke="#888" stroke-width="1.3" />
<rect x="734.9" y="554.5" width="6.4" height="3.0" fill="#777" stroke="none" stroke-width="1" />
<polygon points="768.4,473.8 796.4,473.8 796.4,504.0 788.4,504.0" fill="#d4d4d4" stroke="none" stroke-width="1" />
<polygon points="742.4,493.4 777.0,493.4 758.9,512.2 742.4,512.2" fill="#dedede" stroke="none" stroke-width="1" />
<rect x="742.4" y="488.8" width="28.5" height="4.6" fill="#cdcdcd" stroke="none" stroke-width="1" />
<line x1="742.4" y1="488.8" x2="770.9" y2="488.8" stroke="#a8a8a8" stroke-width="1" />
<line x1="742.4" y1="493.4" x2="770.9" y2="493.4" stroke="#a8a8a8" stroke-width="1" />
<line x1="734.4" y1="513.0" x2="754.4" y2="513.0" stroke="#b0b0b0" stroke-width="1" />
<rect x="741.4" y="520.0" width="6.0" height="5.0" fill="#c8c8c8" stroke="#888" stroke-width="0.7" />
<line x1="769.4" y1="473.8" x2="790.2" y2="504.3" stroke="#444" stroke-width="1.6" />
<line x1="745.0" y1="523.7" x2="780.6" y2="490.6" stroke="#444" stroke-width="1.7" />
<line x1="770.9" y1="502.7" x2="789.4" y2="519.3" stroke="#444" stroke-width="1.6" />
<rect x="792.7" y="473.8" width="3.0" height="30.2" fill="#a0a0a0" stroke="none" stroke-width="1" />
<rect x="788.9" y="504.0" width="6.6" height="53.0" fill="#dcdcdc" stroke="#888" stroke-width="1.3" />
<rect x="788.8" y="554.5" width="6.4" height="3.0" fill="#777" stroke="none" stroke-width="1" />
<polygon points="796.4,473.8 822.9,473.8 827.0,490.0 827.0,492.5 796.4,492.5" fill="#d4d4d4" stroke="#999" stroke-width="1" />
<line x1="796.4" y1="491.5" x2="827.0" y2="491.5" stroke="#8a8a8a" stroke-width="2" />
<line x1="201.3" y1="473.8" x2="822.4" y2="473.8" stroke="#333" stroke-width="2" />
<line x1="321.6" y1="341.2" x2="321.6" y2="506.3" stroke="#2e2e2e" stroke-width="1.6" />
<path d="M320.8,341.7 L334.8,328.3" stroke="#555" stroke-width="4.2" stroke-linecap="butt"/>
<path d="M320.8,341.7 L334.8,328.3" stroke="#cfcfcf" stroke-width="2" stroke-linecap="butt"/>
<rect x="320.1" y="472.2" width="3.0" height="3.0" fill="#222" stroke="none" stroke-width="1" />
<line x1="327.0" y1="396.2" x2="327.0" y2="506.3" stroke="#2e2e2e" stroke-width="1.6" />
<path d="M326.2,396.7 L334.8,386.4" stroke="#555" stroke-width="4.2" stroke-linecap="butt"/>
<path d="M326.2,396.7 L334.8,386.4" stroke="#cfcfcf" stroke-width="2" stroke-linecap="butt"/>
<rect x="325.5" y="472.2" width="3.0" height="3.0" fill="#222" stroke="none" stroke-width="1" />
<line x1="375.9" y1="341.2" x2="375.9" y2="506.3" stroke="#2e2e2e" stroke-width="1.6" />
<path d="M375.1,341.7 L388.9,328.3" stroke="#555" stroke-width="4.2" stroke-linecap="butt"/>
<path d="M375.1,341.7 L388.9,328.3" stroke="#cfcfcf" stroke-width="2" stroke-linecap="butt"/>
<rect x="374.4" y="472.2" width="3.0" height="3.0" fill="#222" stroke="none" stroke-width="1" />
<line x1="381.3" y1="396.2" x2="381.3" y2="506.3" stroke="#2e2e2e" stroke-width="1.6" />
<path d="M380.5,396.7 L388.9,386.4" stroke="#555" stroke-width="4.2" stroke-linecap="butt"/>
<path d="M380.5,396.7 L388.9,386.4" stroke="#cfcfcf" stroke-width="2" stroke-linecap="butt"/>
<rect x="379.8" y="472.2" width="3.0" height="3.0" fill="#222" stroke="none" stroke-width="1" />
<line x1="430.2" y1="341.2" x2="430.2" y2="506.3" stroke="#2e2e2e" stroke-width="1.6" />
<path d="M429.4,341.7 L443.6,328.3" stroke="#555" stroke-width="4.2" stroke-linecap="butt"/>
<path d="M429.4,341.7 L443.6,328.3" stroke="#cfcfcf" stroke-width="2" stroke-linecap="butt"/>
<rect x="428.7" y="472.2" width="3.0" height="3.0" fill="#222" stroke="none" stroke-width="1" />
<line x1="435.6" y1="396.2" x2="435.6" y2="506.3" stroke="#2e2e2e" stroke-width="1.6" />
<path d="M434.8,396.7 L443.6,386.4" stroke="#555" stroke-width="4.2" stroke-linecap="butt"/>
<path d="M434.8,396.7 L443.6,386.4" stroke="#cfcfcf" stroke-width="2" stroke-linecap="butt"/>
<rect x="434.1" y="472.2" width="3.0" height="3.0" fill="#222" stroke="none" stroke-width="1" />
<line x1="484.7" y1="341.2" x2="484.7" y2="506.3" stroke="#2e2e2e" stroke-width="1.6" />
<path d="M483.9,341.7 L496.9,328.3" stroke="#555" stroke-width="4.2" stroke-linecap="butt"/>
<path d="M483.9,341.7 L496.9,328.3" stroke="#cfcfcf" stroke-width="2" stroke-linecap="butt"/>
<rect x="483.2" y="472.2" width="3.0" height="3.0" fill="#222" stroke="none" stroke-width="1" />
<line x1="490.1" y1="396.2" x2="490.1" y2="506.3" stroke="#2e2e2e" stroke-width="1.6" />
<path d="M489.3,396.7 L496.9,386.4" stroke="#555" stroke-width="4.2" stroke-linecap="butt"/>
<path d="M489.3,396.7 L496.9,386.4" stroke="#cfcfcf" stroke-width="2" stroke-linecap="butt"/>
<rect x="488.6" y="472.2" width="3.0" height="3.0" fill="#222" stroke="none" stroke-width="1" />
<line x1="539.1" y1="341.2" x2="539.1" y2="506.3" stroke="#2e2e2e" stroke-width="1.6" />
<path d="M538.3,341.7 L551.8,328.3" stroke="#555" stroke-width="4.2" stroke-linecap="butt"/>
<path d="M538.3,341.7 L551.8,328.3" stroke="#cfcfcf" stroke-width="2" stroke-linecap="butt"/>
<rect x="537.6" y="472.2" width="3.0" height="3.0" fill="#222" stroke="none" stroke-width="1" />
<line x1="544.5" y1="396.2" x2="544.5" y2="506.3" stroke="#2e2e2e" stroke-width="1.6" />
<path d="M543.7,396.7 L551.8,386.4" stroke="#555" stroke-width="4.2" stroke-linecap="butt"/>
<path d="M543.7,396.7 L551.8,386.4" stroke="#cfcfcf" stroke-width="2" stroke-linecap="butt"/>
<rect x="543.0" y="472.2" width="3.0" height="3.0" fill="#222" stroke="none" stroke-width="1" />
<line x1="592.9" y1="341.2" x2="592.9" y2="506.3" stroke="#2e2e2e" stroke-width="1.6" />
<path d="M592.1,341.7 L606.4,328.3" stroke="#555" stroke-width="4.2" stroke-linecap="butt"/>
<path d="M592.1,341.7 L606.4,328.3" stroke="#cfcfcf" stroke-width="2" stroke-linecap="butt"/>
<rect x="591.4" y="472.2" width="3.0" height="3.0" fill="#222" stroke="none" stroke-width="1" />
<line x1="598.3" y1="396.2" x2="598.3" y2="506.3" stroke="#2e2e2e" stroke-width="1.6" />
<path d="M597.5,396.7 L606.4,386.4" stroke="#555" stroke-width="4.2" stroke-linecap="butt"/>
<path d="M597.5,396.7 L606.4,386.4" stroke="#cfcfcf" stroke-width="2" stroke-linecap="butt"/>
<rect x="596.8" y="472.2" width="3.0" height="3.0" fill="#222" stroke="none" stroke-width="1" />
<line x1="647.2" y1="341.2" x2="647.2" y2="506.3" stroke="#2e2e2e" stroke-width="1.6" />
<path d="M646.4,341.7 L659.8,328.3" stroke="#555" stroke-width="4.2" stroke-linecap="butt"/>
<path d="M646.4,341.7 L659.8,328.3" stroke="#cfcfcf" stroke-width="2" stroke-linecap="butt"/>
<rect x="645.7" y="472.2" width="3.0" height="3.0" fill="#222" stroke="none" stroke-width="1" />
<line x1="652.6" y1="396.2" x2="652.6" y2="506.3" stroke="#2e2e2e" stroke-width="1.6" />
<path d="M651.8,396.7 L659.8,386.4" stroke="#555" stroke-width="4.2" stroke-linecap="butt"/>
<path d="M651.8,396.7 L659.8,386.4" stroke="#cfcfcf" stroke-width="2" stroke-linecap="butt"/>
<rect x="651.1" y="472.2" width="3.0" height="3.0" fill="#222" stroke="none" stroke-width="1" />
<line x1="706.3" y1="396.2" x2="706.3" y2="506.3" stroke="#2e2e2e" stroke-width="1.6" />
<path d="M705.5,396.7 L713.7,386.4" stroke="#555" stroke-width="4.2" stroke-linecap="butt"/>
<path d="M705.5,396.7 L713.7,386.4" stroke="#cfcfcf" stroke-width="2" stroke-linecap="butt"/>
<rect x="704.8" y="472.2" width="3.0" height="3.0" fill="#222" stroke="none" stroke-width="1" />
<line x1="760.2" y1="396.2" x2="760.2" y2="506.3" stroke="#2e2e2e" stroke-width="1.6" />
<path d="M759.4,396.7 L767.9,386.4" stroke="#555" stroke-width="4.2" stroke-linecap="butt"/>
<path d="M759.4,396.7 L767.9,386.4" stroke="#cfcfcf" stroke-width="2" stroke-linecap="butt"/>
<rect x="758.7" y="472.2" width="3.0" height="3.0" fill="#222" stroke="none" stroke-width="1" />
<line x1="826.6" y1="440.0" x2="826.6" y2="473.8" stroke="#ccc" stroke-width="1" />
<line x1="806.0" y1="438.8" x2="862.0" y2="438.8" stroke="#bbb" stroke-width="1" />
<polygon points="820.0,438.8 813.0,436.9 813.0,440.7" fill="#333" stroke="none" stroke-width="1" />
<polygon points="829.5,438.8 836.5,436.9 836.5,440.7" fill="#333" stroke="none" stroke-width="1" />
<text transform="translate(849.5,436.3) scale(0.95,1)" font-size="16.5" fill="#2a2a2a" text-anchor="middle" stroke="#2a2a2a" stroke-width="0.55" >90</text>
<line x1="826.0" y1="473.8" x2="849.0" y2="473.8" stroke="#ccc" stroke-width="1" />
<line x1="744.6" y1="523.9" x2="849.0" y2="523.9" stroke="#ccc" stroke-width="1" />
<line x1="848.8" y1="473.8" x2="848.8" y2="523.9" stroke="#bbb" stroke-width="1" />
<polygon points="848.8,474.2 846.8,482.0 850.8,482.0" fill="#333" stroke="none" stroke-width="1" />
<polygon points="848.8,523.4 846.8,516.0 850.8,516.0" fill="#333" stroke="none" stroke-width="1" />
<rect x="834.0" y="490.0" width="30.0" height="17.0" fill="#fff" stroke="none" stroke-width="1" />
<text transform="translate(849.0,504.8) scale(0.95,1)" font-size="16.5" fill="#2a2a2a" text-anchor="middle" stroke="#2a2a2a" stroke-width="0.55" >950</text>
<line x1="850.3" y1="96.1" x2="1024.0" y2="96.1" stroke="#cfcfcf" stroke-width="1.2" />
<line x1="850.3" y1="125.1" x2="1024.0" y2="125.1" stroke="#cfcfcf" stroke-width="1.2" />
<line x1="850.3" y1="154.2" x2="1024.0" y2="154.2" stroke="#cfcfcf" stroke-width="1.2" />
<line x1="850.3" y1="183.2" x2="1024.0" y2="183.2" stroke="#cfcfcf" stroke-width="1.2" />
<line x1="850.3" y1="212.3" x2="1024.0" y2="212.3" stroke="#cfcfcf" stroke-width="1.2" />
<line x1="850.3" y1="241.3" x2="1024.0" y2="241.3" stroke="#cfcfcf" stroke-width="1.2" />
<line x1="850.3" y1="270.4" x2="1024.0" y2="270.4" stroke="#cfcfcf" stroke-width="1.2" />
<line x1="850.3" y1="299.4" x2="1024.0" y2="299.4" stroke="#cfcfcf" stroke-width="1.2" />
<line x1="850.3" y1="328.5" x2="1024.0" y2="328.5" stroke="#cfcfcf" stroke-width="1.2" />
<line x1="850.3" y1="357.5" x2="1024.0" y2="357.5" stroke="#cfcfcf" stroke-width="1.2" />
<line x1="850.3" y1="386.6" x2="1024.0" y2="386.6" stroke="#cfcfcf" stroke-width="1.2" />
<line x1="850.3" y1="96.1" x2="850.3" y2="386.6" stroke="#c9c9c9" stroke-width="1.2" />
<line x1="902.8" y1="96.1" x2="902.8" y2="386.6" stroke="#c9c9c9" stroke-width="1.2" />
<line x1="942.3" y1="96.1" x2="942.3" y2="386.6" stroke="#c9c9c9" stroke-width="1.2" />
<line x1="985.7" y1="96.1" x2="985.7" y2="386.6" stroke="#c9c9c9" stroke-width="1.2" />
<text transform="translate(893.3,118.0) scale(0.95,1)" font-size="16" fill="#262626" text-anchor="end" stroke="#262626" stroke-width="0.55" >-11-2</text>
<text transform="translate(936.2,118.0) scale(0.95,1)" font-size="16" fill="#262626" text-anchor="end" stroke="#262626" stroke-width="0.55" >22,4</text>
<text transform="translate(963.3,118.0) scale(0.95,1)" font-size="16" fill="#262626" text-anchor="middle" stroke="#262626" stroke-width="0.55" >7905</text>
<text transform="translate(999.5,118.0) scale(0.84,1)" font-size="16" fill="#262626" text-anchor="start" stroke="#262626" stroke-width="0.55" >150,200</text>
<text transform="translate(893.3,147.0) scale(0.95,1)" font-size="16" fill="#262626" text-anchor="end" stroke="#262626" stroke-width="0.55" >-10-2</text>
<text transform="translate(936.2,147.0) scale(0.95,1)" font-size="16" fill="#262626" text-anchor="end" stroke="#262626" stroke-width="0.55" >21,0</text>
<text transform="translate(963.3,147.0) scale(0.95,1)" font-size="16" fill="#262626" text-anchor="middle" stroke="#262626" stroke-width="0.55" >7370</text>
<text transform="translate(999.5,147.0) scale(0.84,1)" font-size="16" fill="#262626" text-anchor="start" stroke="#262626" stroke-width="0.55" >150,200</text>
<text transform="translate(893.3,176.1) scale(0.95,1)" font-size="16" fill="#262626" text-anchor="end" stroke="#262626" stroke-width="0.55" >-9-2</text>
<text transform="translate(936.2,176.1) scale(0.95,1)" font-size="16" fill="#262626" text-anchor="end" stroke="#262626" stroke-width="0.55" >19,4</text>
<text transform="translate(963.3,176.1) scale(0.95,1)" font-size="16" fill="#262626" text-anchor="middle" stroke="#262626" stroke-width="0.55" >6835</text>
<text transform="translate(1014.6,176.1) scale(0.84,1)" font-size="16" fill="#262626" text-anchor="start" stroke="#262626" stroke-width="0.55" >150</text>
<text transform="translate(893.3,205.2) scale(0.95,1)" font-size="16" fill="#262626" text-anchor="end" stroke="#262626" stroke-width="0.55" >-8-2</text>
<text transform="translate(936.2,205.2) scale(0.95,1)" font-size="16" fill="#262626" text-anchor="end" stroke="#262626" stroke-width="0.55" >17,8</text>
<text transform="translate(963.3,205.2) scale(0.95,1)" font-size="16" fill="#262626" text-anchor="middle" stroke="#262626" stroke-width="0.55" >6300</text>
<text transform="translate(999.5,205.2) scale(0.84,1)" font-size="16" fill="#262626" text-anchor="start" stroke="#262626" stroke-width="0.55" >100,150</text>
<text transform="translate(893.3,234.2) scale(0.95,1)" font-size="16" fill="#262626" text-anchor="end" stroke="#262626" stroke-width="0.55" >-8-1</text>
<text transform="translate(936.2,234.2) scale(0.95,1)" font-size="16" fill="#262626" text-anchor="end" stroke="#262626" stroke-width="0.55" >15,8</text>
<text transform="translate(963.3,234.2) scale(0.95,1)" font-size="16" fill="#262626" text-anchor="middle" stroke="#262626" stroke-width="0.55" >5765</text>
<text transform="translate(1014.6,234.2) scale(0.84,1)" font-size="16" fill="#262626" text-anchor="start" stroke="#262626" stroke-width="0.55" >100</text>
<text transform="translate(893.3,263.2) scale(0.95,1)" font-size="16" fill="#262626" text-anchor="end" stroke="#262626" stroke-width="0.55" >-7-1</text>
<text transform="translate(936.2,263.2) scale(0.95,1)" font-size="16" fill="#262626" text-anchor="end" stroke="#262626" stroke-width="0.55" >14,2</text>
<text transform="translate(963.3,263.2) scale(0.95,1)" font-size="16" fill="#262626" text-anchor="middle" stroke="#262626" stroke-width="0.55" >5230</text>
<text transform="translate(1014.6,263.2) scale(0.84,1)" font-size="16" fill="#262626" text-anchor="start" stroke="#262626" stroke-width="0.55" >100</text>
<text transform="translate(893.3,292.3) scale(0.95,1)" font-size="16" fill="#262626" text-anchor="end" stroke="#262626" stroke-width="0.55" >-6-1</text>
<text transform="translate(936.2,292.3) scale(0.95,1)" font-size="16" fill="#262626" text-anchor="end" stroke="#262626" stroke-width="0.55" >12,6</text>
<text transform="translate(963.3,292.3) scale(0.95,1)" font-size="16" fill="#262626" text-anchor="middle" stroke="#262626" stroke-width="0.55" >4695</text>
<text transform="translate(999.5,292.3) scale(0.84,1)" font-size="16" fill="#262626" text-anchor="start" stroke="#262626" stroke-width="0.55" >50s,100</text>
<text transform="translate(893.3,321.3) scale(0.95,1)" font-size="16" fill="#262626" text-anchor="end" stroke="#262626" stroke-width="0.55" >-5-1</text>
<text transform="translate(936.2,321.3) scale(0.95,1)" font-size="16" fill="#262626" text-anchor="end" stroke="#262626" stroke-width="0.55" >11,0</text>
<text transform="translate(963.3,321.3) scale(0.95,1)" font-size="16" fill="#262626" text-anchor="middle" stroke="#262626" stroke-width="0.55" >4160</text>
<text transform="translate(1014.6,321.3) scale(0.84,1)" font-size="16" fill="#262626" text-anchor="start" stroke="#262626" stroke-width="0.55" >50s</text>
<text transform="translate(893.3,350.4) scale(0.95,1)" font-size="16" fill="#262626" text-anchor="end" stroke="#262626" stroke-width="0.55" >-4-1</text>
<text transform="translate(936.2,350.4) scale(0.95,1)" font-size="16" fill="#262626" text-anchor="end" stroke="#262626" stroke-width="0.55" >9,4</text>
<text transform="translate(963.3,350.4) scale(0.95,1)" font-size="16" fill="#262626" text-anchor="middle" stroke="#262626" stroke-width="0.55" >3625</text>
<text transform="translate(1014.6,350.4) scale(0.84,1)" font-size="16" fill="#262626" text-anchor="start" stroke="#262626" stroke-width="0.55" >50s</text>
<text transform="translate(893.3,379.4) scale(0.95,1)" font-size="16" fill="#262626" text-anchor="end" stroke="#262626" stroke-width="0.55" >-3-1</text>
<text transform="translate(936.2,379.4) scale(0.95,1)" font-size="16" fill="#262626" text-anchor="end" stroke="#262626" stroke-width="0.55" >7,8</text>
<text transform="translate(963.3,379.4) scale(0.95,1)" font-size="16" fill="#262626" text-anchor="middle" stroke="#262626" stroke-width="0.55" >3090</text>
<text transform="translate(1014.6,379.4) scale(0.84,1)" font-size="16" fill="#262626" text-anchor="start" stroke="#262626" stroke-width="0.55" >50s</text>
<line x1="850.3" y1="96.1" x2="765.3" y2="11.1" stroke="#bdbdbd" stroke-width="1.6" />
<line x1="902.8" y1="96.1" x2="817.8" y2="11.1" stroke="#bdbdbd" stroke-width="1.6" />
<line x1="942.3" y1="96.1" x2="857.3" y2="11.1" stroke="#bdbdbd" stroke-width="1.6" />
<line x1="985.7" y1="96.1" x2="900.7" y2="11.1" stroke="#bdbdbd" stroke-width="1.6" />
<line x1="1024.0" y1="52.1" x2="984.3" y2="10.3" stroke="#bdbdbd" stroke-width="1.6" />
<text x="797.5" y="23.2" font-size="16" fill="#262626" stroke="#262626" stroke-width="0.45" transform="rotate(45 797.5 23.2)">Model TE2</text>
<text x="832.7" y="12.6" font-size="16" fill="#262626" stroke="#262626" stroke-width="0.45" transform="rotate(45 832.7 12.6)">Pojemność [m³]</text>
<text x="871.0" y="10.4" font-size="16" fill="#262626" stroke="#262626" stroke-width="0.45" transform="rotate(45 871.0 10.4)">Wysokość [mm]</text>
<text x="952.4" y="12.2" font-size="16" fill="#262626" stroke="#262626" stroke-width="0.45" transform="rotate(45 952.4 12.2)">Zalecany piec</text>
<text x="945.5" y="35.8" font-size="16" fill="#262626" stroke="#262626" stroke-width="0.45" transform="rotate(45 945.5 35.8)">typ HMW</text>
<line x1="202.9" y1="560.0" x2="202.9" y2="585.0" stroke="#ccc" stroke-width="1" />
<line x1="307.7" y1="560.0" x2="307.7" y2="585.0" stroke="#ccc" stroke-width="1" />
<line x1="203.0" y1="582.4" x2="307.7" y2="582.4" stroke="#bbb" stroke-width="1" />
<rect x="204.0" y="581.0" width="6.0" height="3.0" fill="#333" stroke="none" stroke-width="1" />
<rect x="300.5" y="581.0" width="6.0" height="3.0" fill="#333" stroke="none" stroke-width="1" />
<text transform="translate(255.0,580.0) scale(0.95,1)" font-size="16.5" fill="#2a2a2a" text-anchor="middle" stroke="#2a2a2a" stroke-width="0.55" >1920</text>
<rect x="176.2" y="599.7" width="25.4" height="103.7" fill="#fff" stroke="#8a8a8a" stroke-width="2.6" />
<rect x="309.7" y="599.7" width="24.7" height="103.7" fill="#fff" stroke="#7a7a7a" stroke-width="1.2" />
<circle cx="323.4" cy="651" r="13.4" fill="none" stroke="#8a8a8a" stroke-width="1.4" stroke-dasharray="3,1.2"/>
<rect x="334.4" y="624.5" width="6.1" height="52.5" fill="#fff" stroke="#777" stroke-width="1.1" />
<rect x="203.0" y="598.5" width="105.5" height="106.0" fill="#fff" stroke="none" stroke-width="1" />
<rect x="205.0" y="605.2" width="101.0" height="2.4" fill="#a9a9a9" stroke="none" stroke-width="1" />
<rect x="205.0" y="610.6" width="101.0" height="2.4" fill="#a9a9a9" stroke="none" stroke-width="1" />
<rect x="205.0" y="615.9" width="101.0" height="2.4" fill="#a9a9a9" stroke="none" stroke-width="1" />
<rect x="205.0" y="621.3" width="101.0" height="2.4" fill="#a9a9a9" stroke="none" stroke-width="1" />
<rect x="205.0" y="626.6" width="101.0" height="2.4" fill="#a9a9a9" stroke="none" stroke-width="1" />
<rect x="205.0" y="632.0" width="101.0" height="2.4" fill="#a9a9a9" stroke="none" stroke-width="1" />
<rect x="205.0" y="637.3" width="101.0" height="2.4" fill="#a9a9a9" stroke="none" stroke-width="1" />
<rect x="205.0" y="642.7" width="101.0" height="2.4" fill="#a9a9a9" stroke="none" stroke-width="1" />
<rect x="205.0" y="648.0" width="101.0" height="2.4" fill="#a9a9a9" stroke="none" stroke-width="1" />
<rect x="205.0" y="653.4" width="101.0" height="2.4" fill="#a9a9a9" stroke="none" stroke-width="1" />
<rect x="205.0" y="658.7" width="101.0" height="2.4" fill="#a9a9a9" stroke="none" stroke-width="1" />
<rect x="205.0" y="664.1" width="101.0" height="2.4" fill="#a9a9a9" stroke="none" stroke-width="1" />
<rect x="205.0" y="669.4" width="101.0" height="2.4" fill="#a9a9a9" stroke="none" stroke-width="1" />
<rect x="205.0" y="674.8" width="101.0" height="2.4" fill="#a9a9a9" stroke="none" stroke-width="1" />
<rect x="205.0" y="680.1" width="101.0" height="2.4" fill="#a9a9a9" stroke="none" stroke-width="1" />
<rect x="205.0" y="685.5" width="101.0" height="2.4" fill="#a9a9a9" stroke="none" stroke-width="1" />
<rect x="205.0" y="690.8" width="101.0" height="2.4" fill="#a9a9a9" stroke="none" stroke-width="1" />
<rect x="205.0" y="696.2" width="101.0" height="2.4" fill="#a9a9a9" stroke="none" stroke-width="1" />
<line x1="204.0" y1="600.0" x2="250.0" y2="645.0" stroke="#4a4a4a" stroke-width="1.6" />
<line x1="307.0" y1="600.0" x2="261.0" y2="645.0" stroke="#4a4a4a" stroke-width="1.6" />
<line x1="204.0" y1="704.0" x2="250.0" y2="657.0" stroke="#4a4a4a" stroke-width="1.6" />
<line x1="307.0" y1="704.0" x2="261.0" y2="657.0" stroke="#4a4a4a" stroke-width="1.6" />
<rect x="250.0" y="645.0" width="11.2" height="11.7" fill="#fff" stroke="#4a4a4a" stroke-width="1.4" />
<rect x="203.0" y="599.0" width="105.0" height="105.5" fill="none" stroke="#737373" stroke-width="3.6" />
<line x1="338.5" y1="597.7" x2="402.8" y2="597.7" stroke="#ccc" stroke-width="1" />
<line x1="338.5" y1="705.2" x2="402.8" y2="705.2" stroke="#ccc" stroke-width="1" />
<line x1="368.1" y1="598.0" x2="368.1" y2="705.0" stroke="#bbb" stroke-width="1" />
<line x1="402.4" y1="598.0" x2="402.4" y2="705.0" stroke="#bbb" stroke-width="1" />
<rect x="366.6" y="601.0" width="3.0" height="6.5" fill="#333" stroke="none" stroke-width="1" />
<rect x="366.6" y="695.0" width="3.0" height="6.5" fill="#333" stroke="none" stroke-width="1" />
<rect x="400.9" y="601.0" width="3.0" height="6.5" fill="#333" stroke="none" stroke-width="1" />
<rect x="400.9" y="695.0" width="3.0" height="6.5" fill="#333" stroke="none" stroke-width="1" />
<rect x="344.0" y="641.0" width="38.0" height="20.0" fill="#fff" stroke="none" stroke-width="1" />
<rect x="392.0" y="641.0" width="38.0" height="20.0" fill="#fff" stroke="none" stroke-width="1" />
<text transform="translate(362.5,657.8) scale(0.95,1)" font-size="16.5" fill="#2a2a2a" text-anchor="middle" stroke="#2a2a2a" stroke-width="0.55" >1920</text>
<text transform="translate(410.8,657.8) scale(0.95,1)" font-size="16.5" fill="#2a2a2a" text-anchor="middle" stroke="#2a2a2a" stroke-width="0.55" >2005</text>
<line x1="176.2" y1="706.0" x2="176.2" y2="751.0" stroke="#ccc" stroke-width="1" stroke-dasharray="1.5,1.5"/>
<line x1="202.8" y1="706.0" x2="202.8" y2="730.0" stroke="#ccc" stroke-width="1" stroke-dasharray="1.5,1.5"/>
<line x1="334.6" y1="706.0" x2="334.6" y2="751.0" stroke="#ccc" stroke-width="1" stroke-dasharray="1.5,1.5"/>
<line x1="203.0" y1="727.8" x2="334.6" y2="727.8" stroke="#bbb" stroke-width="1" />
<rect x="204.0" y="726.3" width="6.0" height="3.0" fill="#333" stroke="none" stroke-width="1" />
<rect x="327.5" y="726.3" width="6.0" height="3.0" fill="#333" stroke="none" stroke-width="1" />
<line x1="176.4" y1="748.3" x2="334.6" y2="748.3" stroke="#bbb" stroke-width="1" />
<rect x="177.5" y="746.8" width="6.0" height="3.0" fill="#333" stroke="none" stroke-width="1" />
<rect x="327.5" y="746.8" width="6.0" height="3.0" fill="#333" stroke="none" stroke-width="1" />
<text transform="translate(262.5,724.6) scale(0.95,1)" font-size="16.5" fill="#2a2a2a" text-anchor="middle" stroke="#2a2a2a" stroke-width="0.55" >2470</text>
<text x="194.0" y="744.0" font-size="16.5" fill="#474747" stroke="#474747" stroke-width="0.55" textLength="125.5" lengthAdjust="spacingAndGlyphs" >łącznie ze stroną</text>
<text x="199.3" y="763.3" font-size="16.5" fill="#2a2a2a" stroke="#2a2a2a" stroke-width="0.55" textLength="110.7" lengthAdjust="spacingAndGlyphs" >wylotową 2940</text>
</svg></body></html>
